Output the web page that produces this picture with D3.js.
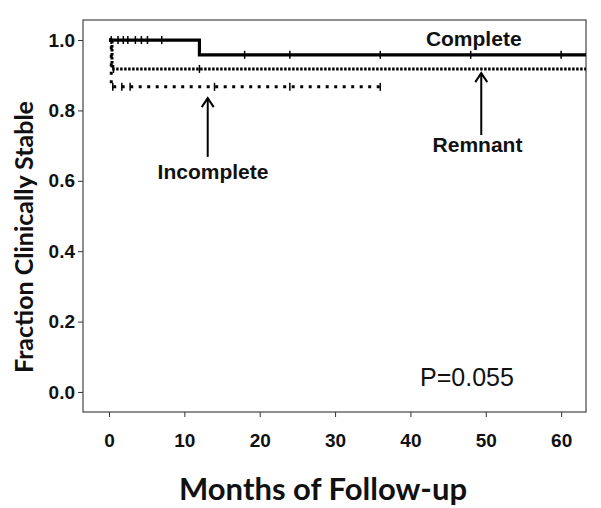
<!DOCTYPE html>
<html>
<head>
<meta charset="utf-8">
<script src="https://cdn.jsdelivr.net/npm/d3@7"></script>
<style>
  body { margin: 0; background: #fff; }
  .tick text { font-family: "Liberation Sans", Arial, sans-serif; font-weight: bold; font-size: 19px; fill: #111; }
  .tick line { stroke: #333; }
  .title { font-family: Lato, "Open Sans", sans-serif; font-weight: bold; fill: #111; }
  .note { font-family: "Liberation Sans", Arial, sans-serif; font-weight: bold; fill: #111; }
</style>
</head>
<body>
<div id="chart"></div>
<script>
// Kaplan-Meier style curves
var completeSteps = [[0, 1.0], [12, 0.958]];
var completeEnd = 64;
var completeCensor = [0.3, 1.2, 1.9, 2.5, 3.5, 4.3, 5.1, 7.0, 18, 24, 36, 48, 60];

var remnantSteps = [[0, 1.0], [0.4, 0.918]];
var remnantEnd = 64;
var remnantCensor = [0.6, 12];

var incompleteSteps = [[0, 1.0], [0.3, 0.867]];
var incompleteEnd = 36;
var incompleteCensor = [0.5, 1.7, 2.8, 14, 24, 36];

var xTicks = [0, 10, 20, 30, 40, 50, 60];
var yTicks = [0.0, 0.2, 0.4, 0.6, 0.8, 1.0];

// labels / arrows: [month, value]
var labels = [
  { text: 'Complete', at: [48.4, 0.984], size: 21, bold: true },
  { text: 'Remnant', at: [48.9, 0.682], size: 21, bold: true },
  { text: 'Incomplete', at: [13.8, 0.605], size: 21, bold: true },
  { text: 'P=0.055', at: [47.5, 0.017], size: 25, bold: false }
];
var arrows = [
  { x: 49.4, from: 0.73, to: 0.906 },
  { x: 13.1, from: 0.668, to: 0.835 }
];

var width = 601, height = 508;
var margin = { left: 83, top: 20, right: 15, bottom: 96 };
var chartWidth = width - margin.left - margin.right;
var chartHeight = height - margin.top - margin.bottom;

var xScale = d3.scaleLinear().domain([-3.45, 63.3]).range([0, chartWidth]);
var yScale = d3.scaleLinear().domain([-0.057, 1.057]).range([chartHeight, 0]);

var svg = d3.select('#chart').append('svg')
  .attr('width', width)
  .attr('height', height);

svg.append('defs').append('clipPath').attr('id', 'clip')
  .append('rect').attr('width', chartWidth).attr('height', chartHeight);

var g = svg.append('g')
  .attr('transform', 'translate(' + margin.left + ',' + margin.top + ')');

// axes
var xAxis = d3.axisBottom(xScale).tickValues(xTicks).tickSize(5).tickPadding(17).tickFormat(d3.format('d'));
var yAxis = d3.axisLeft(yScale).tickValues(yTicks).tickSize(5).tickPadding(3).tickFormat(d3.format('.1f'));

g.append('g').attr('class', 'axis x')
  .attr('transform', 'translate(0,' + chartHeight + ')')
  .call(xAxis)
  .call(a => a.select('.domain').remove());
g.append('g').attr('class', 'axis y')
  .call(yAxis)
  .call(a => a.select('.domain').remove());

// frame
g.append('rect')
  .attr('width', chartWidth).attr('height', chartHeight)
  .attr('fill', 'none').attr('stroke', '#444').attr('stroke-width', 1.2);

// step curves
function stepPoints(steps, end) {
  var pts = steps.map(d => [d[0], d[1]]);
  pts.push([end, steps[steps.length - 1][1]]);
  return pts;
}
function valueAt(steps, t) {
  var v = steps[0][1];
  steps.forEach(d => { if (t >= d[0]) v = d[1]; });
  return v;
}
var line = d3.line().x(d => xScale(d[0])).y(d => yScale(d[1])).curve(d3.curveStepAfter);

var curves = [
  { steps: incompleteSteps, end: incompleteEnd, censor: incompleteCensor, dash: '3,5.5', w: 3 },
  { steps: remnantSteps, end: remnantEnd, censor: remnantCensor, dash: '2.5,1.5', w: 3 },
  { steps: completeSteps, end: completeEnd, censor: completeCensor, dash: null, w: 3.2 }
];

var plot = g.append('g').attr('clip-path', 'url(#clip)');

curves.forEach(function(c) {
  plot.append('path')
    .datum(stepPoints(c.steps, c.end))
    .attr('d', line)
    .attr('fill', 'none')
    .attr('stroke', '#000')
    .attr('stroke-width', c.w)
    .attr('stroke-dasharray', c.dash);
  plot.selectAll(null)
    .data(c.censor)
    .enter().append('line')
    .attr('x1', d => xScale(d)).attr('x2', d => xScale(d))
    .attr('y1', d => yScale(valueAt(c.steps, d)) - 4)
    .attr('y2', d => yScale(valueAt(c.steps, d)) + 4)
    .attr('stroke', '#000')
    .attr('stroke-width', 1.5);
});

// arrows
arrows.forEach(function(a) {
  var x = xScale(a.x), y1 = yScale(a.from), y2 = yScale(a.to);
  g.append('line')
    .attr('x1', x).attr('x2', x).attr('y1', y1).attr('y2', y2)
    .attr('stroke', '#000').attr('stroke-width', 2);
  g.append('path')
    .attr('d', 'M' + (x - 6) + ',' + (y2 + 9) + 'L' + x + ',' + y2 + 'L' + (x + 6) + ',' + (y2 + 9))
    .attr('fill', 'none').attr('stroke', '#000').attr('stroke-width', 2);
});

// labels
g.selectAll('text.note')
  .data(labels)
  .enter().append('text')
  .attr('class', 'note')
  .attr('x', d => xScale(d.at[0]))
  .attr('y', d => yScale(d.at[1]))
  .attr('text-anchor', 'middle')
  .style('font-size', d => d.size + 'px')
  .style('font-weight', d => d.bold ? 'bold' : 'normal')
  .text(d => d.text);

// axis titles
svg.append('text')
  .attr('class', 'title')
  .attr('x', 323).attr('y', 500)
  .attr('text-anchor', 'middle')
  .style('font-size', '31px')
  .text('Months of Follow-up');

svg.append('text')
  .attr('class', 'title')
  .attr('transform', 'translate(33,237) rotate(-90)')
  .attr('text-anchor', 'middle')
  .style('font-size', '25px')
  .text('Fraction Clinically Stable');
</script>
</body>
</html>
